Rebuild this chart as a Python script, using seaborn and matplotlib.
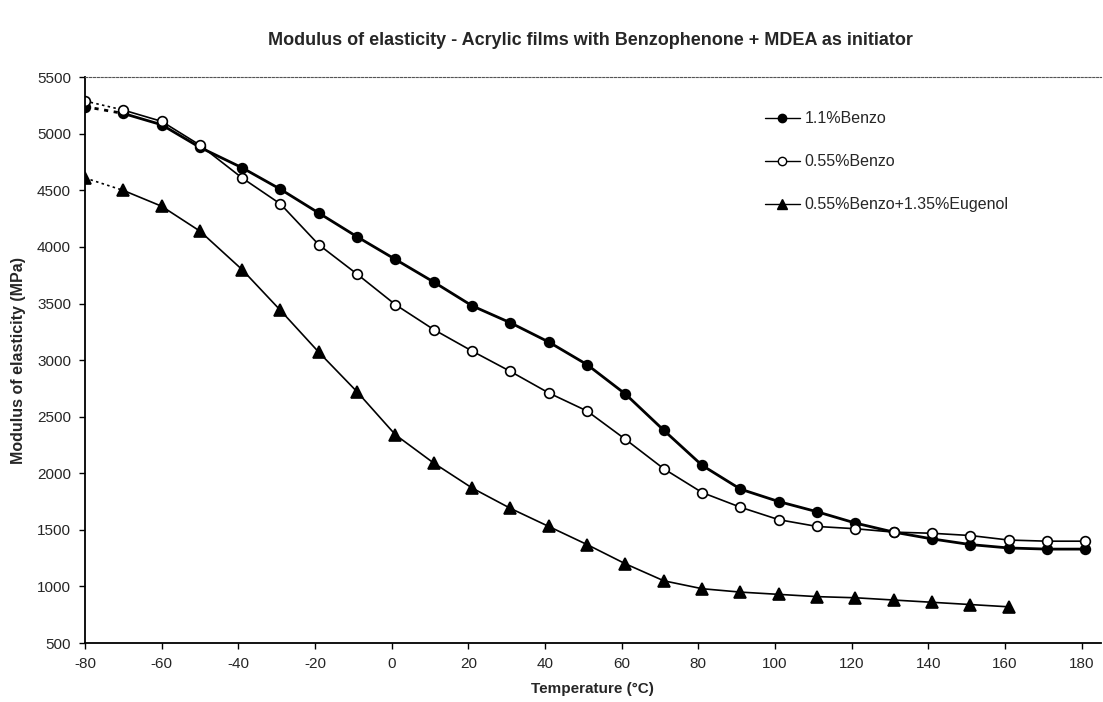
import matplotlib
matplotlib.use("Agg")
import matplotlib.pyplot as plt
import seaborn as sns
import pandas as pd

temps = [-80, -70, -60, -50, -39, -29, -19, -9, 1, 11, 21, 31, 41, 51, 61, 71, 81,
         91, 101, 111, 121, 131, 141, 151, 161, 171, 181]
benzo_11 = [5240, 5180, 5080, 4880, 4700, 4510, 4300, 4090, 3890, 3690, 3480, 3330,
            3160, 2960, 2700, 2380, 2070, 1860, 1750, 1660, 1560, 1480, 1420, 1370,
            1340, 1330, 1330]
benzo_055 = [5290, 5210, 5110, 4900, 4610, 4380, 4020, 3760, 3490, 3270, 3080, 2900,
             2710, 2550, 2300, 2040, 1830, 1700, 1590, 1530, 1510, 1480, 1470, 1450,
             1410, 1400, 1400]
benzo_eug = [4610, 4500, 4360, 4140, 3800, 3440, 3070, 2720, 2340, 2090, 1870, 1690,
             1530, 1370, 1200, 1050, 980, 950, 930, 910, 900, 880, 860, 840, 820]
labels = ["1.1%Benzo", "0.55%Benzo", "0.55%Benzo+1.35%Eugenol"]
x_ticks = list(range(-80, 181, 20))
y_ticks = list(range(500, 5501, 500))

sns.set_theme(style="white")
plt.rcParams["font.family"] = ["Liberation Sans", "DejaVu Sans"]
plt.rcParams["axes.unicode_minus"] = False

fig = plt.figure(figsize=(11.03, 7.02), dpi=100)
ax = fig.add_axes([0.077, 0.084, 0.921, 0.806])

series = [benzo_11, benzo_055, benzo_eug]
styles = [
    dict(marker="o", mfc="black", lw=2.0, ms=7),
    dict(marker="o", mfc="white", lw=1.2, ms=7),
    dict(marker="^", mfc="black", lw=1.2, ms=8),
]
handles = []
for vals, lab, st in zip(series, labels, styles):
    df = pd.DataFrame({"T": temps[:len(vals)], "E": vals})
    # dotted first segment
    sns.lineplot(data=df.iloc[:2], x="T", y="E", ax=ax, color="black",
                 linestyle=(0, (1.5, 2.0)), lw=st["lw"], sort=False)
    sns.lineplot(data=df.iloc[1:], x="T", y="E", ax=ax, color="black",
                 lw=st["lw"], sort=False)
    ax.plot(df["T"], df["E"], linestyle="none", marker=st["marker"],
            mfc=st["mfc"], mec="black", mew=1.2, ms=st["ms"])
    h, = ax.plot([], [], color="black", lw=1.0, marker=st["marker"],
                 mfc=st["mfc"], mec="black", mew=1.0, ms=st["ms"] - 1, label=lab)
    handles.append(h)

ax.set_xlim(-80, 185)
ax.set_ylim(500, 5500)
ax.set_xticks(x_ticks)
ax.set_yticks(y_ticks)
ax.tick_params(axis="both", which="major", direction="out", length=4, width=1,
               color="black", labelsize=11, bottom=True, left=True, pad=6)
for s in ["left", "bottom"]:
    ax.spines[s].set_color("black")
    ax.spines[s].set_linewidth(1.3)
ax.spines["right"].set_visible(False)
ax.spines["top"].set_color("#555555")
ax.spines["top"].set_linestyle((0, (2, 1.5)))
ax.spines["top"].set_linewidth(0.8)
ax.grid(False)

ax.set_xlabel("Temperature (°C)", fontsize=11, fontweight="bold", labelpad=8)
ax.set_ylabel("Modulus of elasticity (MPa)", fontsize=11.5, fontweight="bold", labelpad=8)
fig.suptitle("Modulus of elasticity - Acrylic films with Benzophenone + MDEA as initiator",
             fontsize=13, fontweight="bold", x=0.535, y=0.955)

ax.legend(handles=handles, loc="upper left", bbox_to_anchor=(0.655, 0.965),
          frameon=False, fontsize=11.5, labelspacing=1.75, handlelength=2.2,
          handletextpad=0.3)

fig.savefig("out.png", dpi=100)
